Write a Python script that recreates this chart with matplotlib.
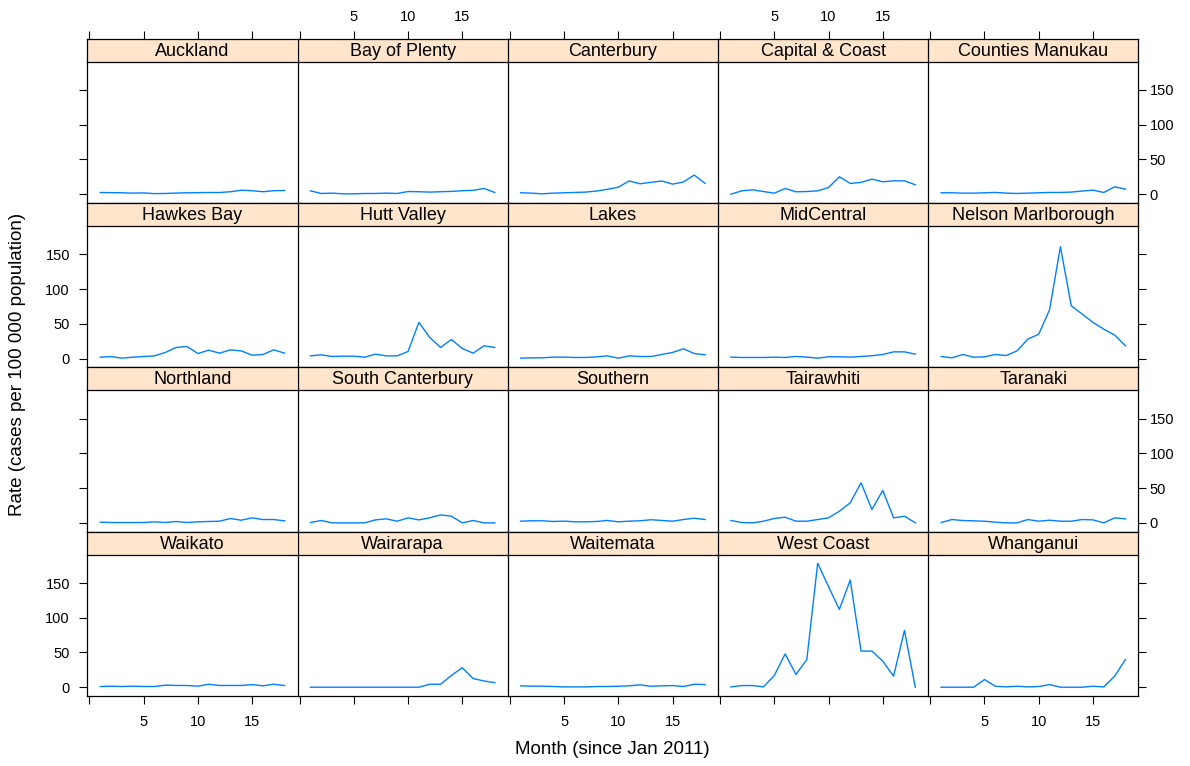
import matplotlib
matplotlib.use('Agg')
import matplotlib.pyplot as plt

plt.rcParams['font.family'] = ['Liberation Sans', 'DejaVu Sans']

months = list(range(1, 19))

regions = ["Auckland", "Bay of Plenty", "Canterbury", "Capital & Coast", "Counties Manukau",
           "Hawkes Bay", "Hutt Valley", "Lakes", "MidCentral", "Nelson Marlborough",
           "Northland", "South Canterbury", "Southern", "Tairawhiti", "Taranaki",
           "Waikato", "Wairarapa", "Waitemata", "West Coast", "Whanganui"]

auckland = [2.4, 2.2, 2.0, 1.5, 1.8, 0.8, 1.0, 1.6, 2.0, 2.2, 2.4, 2.4, 3.5, 5.6, 5.0, 3.5, 5.0, 5.3]
bay_of_plenty = [4.8, 1.0, 1.5, 0.5, 0.5, 1.0, 1.0, 1.5, 1.0, 3.8, 3.5, 3.0, 3.5, 4.0, 5.0, 5.5, 8.2, 2.4]
canterbury = [2.0, 1.5, 0.5, 1.5, 2.0, 2.5, 3.0, 4.5, 7.0, 10.0, 19.0, 15.0, 17.0, 19.0, 14.5, 17.5, 27.5, 15.5]
capital_coast = [0.0, 4.8, 6.2, 3.8, 1.4, 8.2, 3.4, 3.8, 4.8, 9.6, 25.0, 15.4, 17.0, 21.6, 17.8, 19.2, 19.2, 13.5]
counties_manukau = [2.0, 2.0, 1.5, 1.5, 2.0, 2.5, 1.5, 1.0, 1.5, 2.0, 2.5, 2.5, 3.0, 4.5, 5.8, 2.4, 10.6, 7.2]
hawkes_bay = [1.9, 2.9, 0.5, 1.9, 2.9, 3.8, 8.7, 15.9, 17.3, 7.2, 12.0, 7.7, 12.5, 11.0, 4.8, 5.8, 12.5, 7.7]
hutt_valley = [3.8, 5.3, 2.9, 3.4, 3.4, 1.9, 6.3, 3.8, 3.8, 10.1, 52.0, 30.3, 15.9, 27.4, 14.4, 7.7, 18.3, 15.9]
lakes = [0.5, 1.0, 1.0, 2.0, 2.0, 1.5, 1.5, 2.4, 3.8, 0.5, 3.8, 2.9, 2.9, 5.8, 8.7, 14.0, 7.2, 5.3]
midcentral = [2.0, 1.5, 1.5, 1.5, 2.0, 1.5, 3.0, 2.0, 0.5, 2.5, 2.5, 2.0, 3.0, 4.0, 5.8, 9.6, 9.6, 6.3]
nelson_marlborough = [2.9, 1.0, 5.8, 1.9, 2.4, 5.8, 4.3, 11.0, 27.9, 35.0, 70.2, 161.0, 76.0, 64.0, 52.0, 42.3, 33.7, 18.3]
northland = [1.0, 0.5, 0.5, 0.5, 0.5, 1.5, 0.5, 2.0, 0.5, 1.5, 2.0, 2.4, 6.3, 3.8, 7.2, 4.8, 4.8, 2.9]
south_canterbury = [0.5, 3.4, 0.0, 0.0, 0.0, 0.0, 4.3, 5.8, 2.4, 7.2, 4.3, 7.2, 11.5, 9.6, 0.0, 3.4, 0.0, 0.0]
southern = [2.5, 3.0, 3.0, 2.0, 2.5, 1.5, 1.5, 2.0, 3.5, 1.5, 2.5, 3.0, 4.5, 3.5, 2.4, 4.8, 6.7, 4.8]
tairawhiti = [3.4, 0.5, 0.0, 2.4, 6.3, 8.2, 2.4, 2.4, 4.8, 7.2, 16.8, 28.9, 57.7, 19.2, 46.7, 7.2, 9.6, 0.0]
taranaki = [0.5, 4.8, 3.4, 2.9, 2.4, 1.0, 0.0, 0.0, 4.8, 2.4, 3.8, 2.4, 2.4, 4.8, 4.3, 0.0, 7.2, 5.8]
waikato = [1.0, 1.5, 1.0, 1.5, 1.0, 1.0, 3.0, 2.5, 2.5, 1.5, 4.3, 2.5, 2.5, 2.5, 3.8, 2.0, 4.3, 2.4]
wairarapa = [0, 0, 0, 0, 0, 0, 0, 0, 0, 0, 0, 4.3, 4.3, 17.0, 28.0, 12.5, 9.0, 6.5]
waitemata = [2.0, 1.5, 1.5, 1.0, 0.5, 0.5, 0.5, 1.0, 1.0, 1.4, 2.0, 3.4, 1.4, 2.0, 2.4, 1.0, 4.3, 3.8]
west_coast = [0.5, 2.4, 2.4, 0.5, 16.8, 48.0, 18.3, 40.0, 178.5, 144.8, 112.0, 154.3, 52.0, 52.0, 37.5, 15.9, 81.8, 0.0]
whanganui = [0, 0, 0, 0, 11.0, 1.4, 0.5, 1.4, 0.5, 1.0, 3.8, 0, 0, 0, 1.4, 0.5, 15.9, 40.0]

series = [auckland, bay_of_plenty, canterbury, capital_coast, counties_manukau,
          hawkes_bay, hutt_valley, lakes, midcentral, nelson_marlborough,
          northland, south_canterbury, southern, tairawhiti, taranaki,
          waikato, wairarapa, waitemata, west_coast, whanganui]

y_ticks = [0, 50, 100, 150]
x_ticks = [0, 5, 10, 15]
x_tick_labels = ['', '5', '10', '15']

LINE = '#0080ff'
STRIP = '#ffe5cc'

W, H = 1190, 766
fig = plt.figure(figsize=(W / 100, H / 100), dpi=100)

allv = [v for s in series for v in s]
ymin, ymax = min(allv), max(allv)
yr = ymax - ymin
ylim = (ymin - 0.07 * yr, ymax + 0.07 * yr)
xr = months[-1] - months[0]
xlim = (months[0] - 0.07 * xr, months[-1] + 0.07 * xr)

col_edges = [87.3, 297.5, 507.7, 718.0, 928.2, 1138.4]
row_top = 38.5
row_h = 164.35
strip_h = 23.0

tick_kw = dict(direction='out', length=5.5, width=0.8, labelsize=10.5, color='black')

for i, (name, vals) in enumerate(zip(regions, series)):
    r, c = divmod(i, 5)
    x0 = col_edges[c]
    cw = col_edges[c + 1] - col_edges[c]
    st = row_top + r * row_h
    sb = st + strip_h
    pb = st + row_h
    ax = fig.add_axes([x0 / W, 1 - pb / H, cw / W, (pb - sb) / H])
    sax = fig.add_axes([x0 / W, 1 - sb / H, cw / W, strip_h / H])

    ax.set_facecolor('none')
    ax.plot(months, vals, color=LINE, lw=1.0)
    ax.set_xlim(*xlim)
    ax.set_ylim(*ylim)
    for sp in ax.spines.values():
        sp.set_linewidth(0.9)
    ax.spines['right'].set_visible(c == 4)
    ax.spines['top'].set_visible(False)

    ax.set_yticks(y_ticks)
    ax.set_xticks(x_ticks)
    ax.set_xticklabels(x_tick_labels)
    ypad = 7 if c == 0 else 2.5
    ax.tick_params(axis='y', left=(c == 0), right=(c == 4),
                   labelleft=(c == 0 and r % 2 == 1),
                   labelright=(c == 4 and r % 2 == 0), pad=ypad, **tick_kw)
    ax.tick_params(axis='x', bottom=(r == 3), top=False,
                   labelbottom=(r == 3 and c % 2 == 0), labeltop=False,
                   pad=8.5, **tick_kw)

    sax.set_facecolor(STRIP)
    sax.set_xlim(*xlim)
    sax.set_ylim(0, 1)
    sax.set_yticks([])
    for sp in sax.spines.values():
        sp.set_linewidth(0.9)
    sax.spines['right'].set_visible(c == 4)
    sax.set_xticks(x_ticks)
    sax.set_xticklabels(x_tick_labels)
    sax.tick_params(axis='x', bottom=False, labelbottom=False,
                    top=(r == 0), labeltop=(r == 0 and c % 2 == 1), pad=5, **tick_kw)
    sax.text(0.5, 0.45, name, transform=sax.transAxes, ha='center', va='center',
             fontsize=13)

fig.text(612 / W, 1 - 750 / H, 'Month (since Jan 2011)', ha='center', va='center', fontsize=13.5)
fig.text(18 / W, 1 - 364 / H, 'Rate (cases per 100 000 population)', ha='center', va='center',
         rotation=90, fontsize=13.5)

fig.savefig('out.png', dpi=100)
